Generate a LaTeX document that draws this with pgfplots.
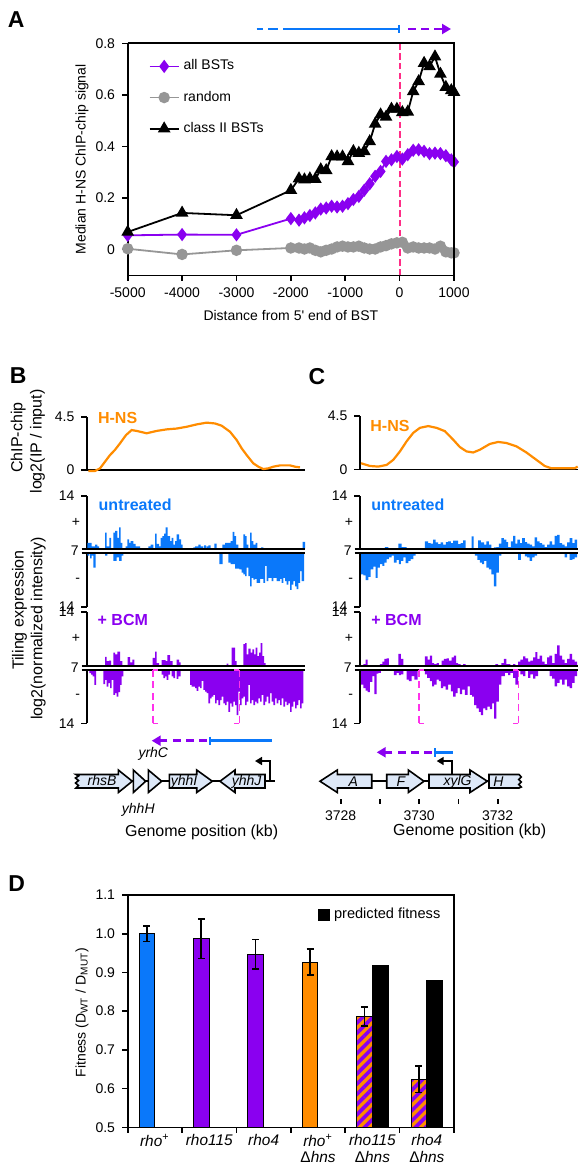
\documentclass[border=0pt]{standalone}
\usepackage{fontspec}
\setmainfont{Liberation Sans}
\usepackage{pgfplots}
\pgfplotsset{compat=1.18}
\usetikzlibrary{arrows.meta,patterns.meta}

\definecolor{cblue}{RGB}{10,120,250}
\definecolor{cpurple}{RGB}{138,0,240}
\definecolor{corange}{RGB}{255,140,0}
\definecolor{cgray}{RGB}{150,150,150}
\definecolor{cpink}{RGB}{255,45,135}
\definecolor{cmag}{RGB}{255,50,235}
\definecolor{gfill}{RGB}{221,232,248}

\pgfplotsset{
  every axis/.append style={
    scale only axis,
    font=\fontsize{7}{8.4}\selectfont,
    /pgf/number format/assume math mode=true,
    tick align=outside, major tick length=2.8pt,
    tick style={black, line width=0.8pt},
    axis line style={line width=0.8pt},
    label style={font=\fontsize{8}{9.6}\selectfont},
  },
  lineleg/.style={legend image code/.code={%
    \draw[mark repeat=2,mark phase=2,##1] plot coordinates {(0pt,0pt) (7.25pt,0pt) (14.5pt,0pt)};}},
  tile/.style={width=109pt, ymin=7, ymax=14,
    axis x line=none, axis y line*=left, tick align=outside,
    ytick={14}, yticklabels={14},
    extra y ticks={10.5}, extra y tick style={major tick length=0pt}},
  tileB/.style={tile, xmin=21, xmax=675},
  tileC/.style={tile, xmin=45, xmax=700},
  chip/.style={width=109pt, height=26.65pt, ymin=0, ymax=4.5,
    axis x line*=bottom, axis y line*=left, tick align=outside,
    xtick=\empty, ytick={0,4.5}, yticklabels={0,4.5}, clip=false},
  bars/.style={ybar interval, draw=none},
  obs/.style={ybar, bar width=7.75pt, bar shift=0pt, draw=black, line width=0.5pt, forget plot,
    error bars/y dir=both, error bars/y explicit,
    error bars/error bar style={line width=0.8pt, black},
    error bars/error mark options={rotate=90, mark size=1.75pt, line width=0.8pt, black}},
}

\newcommand{\gR}[3]{\filldraw[fill=gfill, draw=black, line width=0.8pt, line join=miter]
  (#1,774.5) -- (#2,774.5) -- (#2,770) -- (#3,781.25) -- (#2,792.5) -- (#2,788) -- (#1,788) -- cycle;}
\newcommand{\gL}[3]{\filldraw[fill=gfill, draw=black, line width=0.8pt, line join=miter]
  (#3,774.5) -- (#2,774.5) -- (#2,770) -- (#1,781.25) -- (#2,792.5) -- (#2,788) -- (#3,788) -- cycle;}

\begin{document}
\begin{tikzpicture}[font=\fontsize{7}{8.4}\selectfont]
\path[use as bounding box] (0pt,0pt) rectangle (289.5pt,-583pt);

% ---------------- A
\begin{axis}[at={(63.85pt,-137.65pt)}, anchor=south west, width=163.15pt, height=116pt,
  xmin=-5000, xmax=1000, ymin=-0.1, ymax=0.8, clip=false,
  xtick={-5000,-4000,-3000,-2000,-1000,0,1000}, ytick={0,0.2,0.4,0.6,0.8},
  tick pos=left, scaled ticks=false, /pgf/number format/1000 sep={},
  xlabel={Distance from 5\textquotesingle{} end of BST},
  ylabel={Median H-NS ChIP-chip signal},
  every axis x label/.style={at={(axis description cs:0.5,-0.175)}, anchor=center},
  every axis y label/.style={at={(axis description cs:-0.14,0.5)}, rotate=90, anchor=center},
  legend style={draw=none, fill=none, at={(0.045,0.965)}, anchor=north west, row sep=5pt},
  legend cell align=left, lineleg]
\addplot[cpurple, line width=0.9pt, mark=diamond*, mark size=2.6pt] coordinates {
 (-5000,0.055)(-4000,0.058)(-3000,0.057)(-2000,0.12)(-1850,0.114)(-1750,0.123)(-1650,0.132)
 (-1550,0.142)(-1450,0.157)(-1350,0.161)(-1250,0.168)(-1150,0.165)(-1050,0.168)(-950,0.178)
 (-850,0.194)(-750,0.206)(-650,0.23)(-550,0.255)(-450,0.284)(-350,0.303)(-250,0.342)
 (-150,0.348)(-50,0.361)(50,0.351)(150,0.368)(250,0.385)(350,0.387)(450,0.381)(550,0.372)
 (650,0.374)(750,0.372)(850,0.364)(950,0.348)(1000,0.34)};
\addlegendentry{all BSTs}
\addplot[cgray, line width=0.9pt, mark=*, mark size=2.4pt] coordinates {
 (-5000,0.003)(-4000,-0.019)(-3000,-0.003)(-2000,0.006)(-1850,0.006)(-1750,0.002)(-1650,0.006)
 (-1550,-0.003)(-1450,-0.009)(-1350,-0.003)(-1250,0.002)(-1150,0.01)(-1050,0.013)(-950,0.01)
 (-850,0.01)(-750,0.013)(-650,0.006)(-550,0.002)(-450,0.002)(-350,0.01)(-250,0.015)
 (-150,0.022)(-50,0.026)(50,0.028)(150,0.006)(250,0.01)(350,0.006)(450,0.006)(550,0.006)
 (650,0.002)(750,0.013)(850,-0.009)(950,-0.013)(1000,-0.013)};
\addlegendentry{random}
\addplot[black, line width=0.9pt, mark=triangle*, mark size=2.8pt] coordinates {
 (-5000,0.068)(-4000,0.142)(-3000,0.133)(-2000,0.23)(-1850,0.275)(-1750,0.271)(-1650,0.275)
 (-1550,0.273)(-1450,0.31)(-1350,0.307)(-1250,0.361)(-1150,0.36)(-1050,0.36)(-950,0.342)
 (-850,0.381)(-750,0.374)(-650,0.381)(-550,0.419)(-450,0.487)(-350,0.523)(-250,0.514)
 (-150,0.545)(-50,0.545)(50,0.532)(150,0.534)(250,0.613)(350,0.652)(450,0.723)(550,0.71)
 (650,0.748)(750,0.681)(850,0.63)(950,0.617)(1000,0.61)};
\addlegendentry{class II BSTs}
\draw[cpink, line width=0.9pt, dash pattern=on 3.3pt off 1.6pt] (axis cs:0,-0.1) -- (axis cs:0,0.8);
\end{axis}

% ---------------- B
\begin{axis}[chip, at={(43.5pt,-235pt)}, anchor=south west, xmin=21, xmax=675]
\addplot[corange, line width=1.1pt] coordinates {(25,-0.08)(45,-0.08)(60,0.14)(90,1.26)(105,1.7)
 (120,2.25)(138,2.95)(155,3.37)(170,3.3)(200,3.1)(230,3.3)(260,3.43)(290,3.5)(320,3.65)(350,3.85)
 (380,4.0)(405,3.93)(425,3.74)(450,3.23)(470,2.53)(485,1.83)(500,1.26)(520,0.56)(535,0.28)
 (550,0.08)(565,0.14)(580,0.28)(600,0.39)(630,0.39)(645,0.28)(660,0.22)};
\end{axis}

\begin{axis}[tileB, at={(43.5pt,-274.35pt)}, anchor=south west, height=26.35pt, extra y tick labels={+}]
\addplot[bars, fill=cblue] coordinates {(22,7.77)(35,7.32)(45,7.55)(52,7.32)(57,7)(75,9.14)(80,7.32)
 (88,8.45)(93,7)(100,9.14)(105,9.36)(112,8.45)(117,9.82)(122,7.77)(127,7)(137,7.32)(142,8.23)
 (147,7.77)(152,8.0)(160,7.64)(167,7.32)(180,7)(205,7.32)(212,7.55)(220,7)(225,9.0)(230,7.64)
 (237,7.32)(242,8.45)(247,8.68)(252,9.0)(257,9.82)(263,8.68)(270,8.0)(275,8.45)(280,7.55)
 (285,8.0)(290,8.91)(297,8.23)(303,7.55)(308,7)(340,7.18)(345,7.32)(355,7.55)(362,7.32)(370,7)
 (372,7.45)(378,7)(380,7.32)(385,7.45)(392,7)(403,7.68)(410,7)(427,7.55)(435,7.77)(445,7.77)
 (452,8.0)(458,9.23)(463,8.68)(468,7.55)(475,7)(490,8.91)(495,8.68)(500,7.55)(505,7)(510,9.14)
 (515,8.0)(520,7.55)(527,7.77)(532,7)(543,7.18)(550,7)(668,7.91)(675,7)};
\end{axis}
\begin{axis}[tileB, y dir=reverse, at={(43.5pt,-276.65pt)}, anchor=north west, height=26.7pt, extra y tick labels={-}]
\addplot[bars, fill=cblue] coordinates {(22,7.31)(28,7)(30,7.67)(35,7.31)(40,8.88)(47,7)(75,7.31)
 (82,7)(100,7.98)(110,7.54)(117,7.98)(125,7.31)(130,7)(418,8.43)(428,7)(445,8.21)(452,8.43)
 (465,9.01)(478,9.10)(485,9.54)(490,9.77)(495,9.99)(500,8.88)(505,9.99)(510,11.33)(515,10.21)
 (520,10.44)(525,10.35)(530,10.88)(540,10.35)(550,10.88)(555,8.65)(560,10.66)(565,10.21)
 (575,10.66)(580,10.21)(590,10.66)(600,10.35)(605,10.88)(610,10.21)(615,10.66)(620,11.11)
 (625,10.66)(630,11.78)(635,11.11)(640,10.66)(645,11.33)(650,11.69)(655,10.88)(660,9.32)
 (665,10.66)(672,7)};
\end{axis}
\begin{axis}[tileB, at={(43.5pt,-332.85pt)}, anchor=south west, height=27pt, extra y tick labels={+}]
\addplot[bars, fill=cpurple] coordinates {(21,7)(75,8.15)(80,7.58)(87,7.66)(93,7)(100,8.68)(105,8.46)
 (112,8.81)(120,7.58)(127,7)(143,8.11)(150,7.44)(157,7.8)(163,7)(218,8.02)(225,8.81)(230,7.35)
 (237,7)(245,7.71)(257,7.58)(262,8.37)(270,7.58)(278,7)(290,7.8)(297,7.44)(302,7)(440,7.27)
 (445,7)(455,9.35)(465,7.58)(470,7)(490,9.79)(495,9.92)(500,8.46)(505,9.21)(512,8.68)(517,9.12)
 (522,8.46)(527,9.35)(532,8.24)(537,8.68)(542,9.92)(547,8.24)(552,7.35)(557,7)(670,7)};
\end{axis}
\begin{axis}[tileB, y dir=reverse, at={(43.5pt,-335pt)}, anchor=north west, height=26.65pt, extra y tick labels={-}]
\addplot[bars, fill=cpurple] coordinates {(21,7)(28,7.4)(33,7.62)(38,7.84)(43,8.95)(48,7)(70,8.86)
 (75,8.28)(80,9.17)(85,8.73)(90,9.39)(95,8.28)(100,10.27)(105,10.05)(110,10.5)(115,9.92)(120,8.95)
 (125,7.84)(130,7)(245,7.62)(250,8.06)(255,7.84)(260,8.28)(265,7.62)(270,7)(275,7.84)(280,8.06)
 (285,7)(290,8.15)(295,7.84)(302,7)(330,8.95)(335,9.17)(345,9.39)(350,9.74)(355,9.17)(360,9.39)
 (365,8.42)(370,9.61)(375,9.83)(380,10.05)(385,11.38)(390,10.72)(395,10.5)(400,10.27)(405,11.38)
 (410,10.94)(415,11.6)(420,10.94)(425,10.5)(430,11.38)(435,11.6)(440,11.16)(445,12.49)(450,11.38)
 (455,11.82)(460,11.16)(465,11.6)(470,12.93)(475,9.83)(480,11.6)(485,10.72)(490,10.5)(495,11.6)
 (500,11.16)(505,8.95)(510,11.38)(515,10.94)(520,11.6)(525,11.16)(530,11.38)(535,10.72)(540,11.16)
 (545,10.27)(550,11.6)(555,11.16)(560,10.5)(565,11.38)(570,10.05)(575,11.16)(580,11.6)(585,10.72)
 (590,11.38)(595,10.94)(600,11.6)(605,10.72)(610,11.82)(615,11.16)(620,11.6)(625,11.38)(630,12.49)
 (635,11.82)(640,11.16)(645,12.04)(650,11.6)(655,10.94)(660,12.04)(665,11.38)(670,7)};
\end{axis}

% ---------------- C
\begin{axis}[chip, at={(180pt,-234.65pt)}, anchor=south west, xmin=45, xmax=700]
\addplot[corange, line width=1.1pt] coordinates {(48,0.51)(75,0.28)(100,0.23)(125,0.37)(145,0.8)
 (165,1.51)(185,2.36)(205,3.08)(225,3.5)(250,3.65)(275,3.5)(300,3.22)(325,2.5)(345,1.88)(365,1.51)
 (385,1.42)(405,1.65)(435,2.14)(460,2.31)(485,2.22)(515,1.94)(545,1.42)(575,0.8)(600,0.28)
 (620,0.09)(645,0.09)(675,0.09)(690,0.09)(699,0.23)};
\end{axis}

\begin{axis}[tileC, at={(180pt,-274.35pt)}, anchor=south west, height=26.35pt, extra y tick labels={+}]
\addplot[bars, fill=cblue] coordinates {(45,7)(120,7.22)(130,7)(160,7.66)(170,7.22)(185,7)(200,7.09)
 (210,7)(240,7.97)(250,7.75)(257,7.66)(265,8.19)(272,7.84)(280,7.62)(287,7.84)(295,7.53)(303,7.88)
 (310,7.97)(318,7.75)(325,8.06)(340,7.62)(347,7.75)(355,8.10)(362,7)(380,8.63)(386,7)(400,8.10)
 (408,7.84)(418,7.53)(425,7.97)(432,7.53)(440,7)(447,7.18)(455,7.22)(462,7.66)(470,8.41)(477,8.19)
 (485,7.88)(490,7.22)(498,7.97)(505,8.72)(512,7.66)(518,8.19)(525,7.75)(532,8.41)(540,7.88)
 (547,7.66)(555,7.53)(562,7.31)(570,8.50)(577,7.97)(585,7.75)(592,7.53)(600,7.22)(607,7.53)
 (615,7.97)(622,7.53)(630,8.72)(637,8.85)(645,7.75)(652,7.53)(660,7.31)(667,7.84)(675,8.41)
 (683,7.75)(690,8.19)(697,7)};
\end{axis}
\begin{axis}[tileC, y dir=reverse, at={(180pt,-276.65pt)}, anchor=north west, height=26.7pt, extra y tick labels={-}]
\addplot[bars, fill=cblue] coordinates {(45,7)(48,9.77)(55,9.9)(62,10.53)(70,10.08)(77,9.1)(85,8.74)
 (92,10.21)(98,8.88)(105,8.43)(112,8.65)(118,8.21)(125,7.76)(132,7.54)(140,7.31)(147,8.21)(155,7.85)
 (162,8.43)(168,7.98)(175,7.54)(182,8.29)(190,7.98)(197,7.76)(205,7.31)(212,7)(315,7.09)(322,7)
 (390,7.31)(398,7.85)(405,8.21)(412,8.43)(418,7.98)(425,8.88)(432,9.1)(440,9.77)(447,11.33)
 (455,9.54)(462,7.31)(470,7)(520,7.85)(528,7)(540,7.4)(547,7.54)(555,7.98)(562,7.54)(570,7.31)
 (577,7)(660,7.54)(667,7)(675,7.85)(683,7.76)(690,7.54)(697,7)};
\end{axis}
\begin{axis}[tileC, at={(180pt,-332.85pt)}, anchor=south west, height=27pt, extra y tick labels={+}]
\addplot[bars, fill=cpurple] coordinates {(45,7)(55,7.22)(62,7.79)(68,7.09)(75,7)(105,7.22)(112,7.52)
 (118,7.87)(125,7.96)(132,7)(160,8.53)(168,7.87)(175,7)(240,8.22)(248,7.79)(255,8.31)(262,7.35)
 (268,7.22)(275,7.35)(282,7)(290,7.66)(297,7.87)(305,7.96)(312,7.66)(320,8.09)(327,8.31)(334,7.35)
 (340,7.22)(347,7)(355,7.22)(362,7)(452,7.22)(460,7)(470,7.35)(477,7.87)(485,7.22)(497,7)(505,7.22)
 (512,7)(520,7.52)(527,7.79)(535,8.22)(542,7.96)(550,7.52)(557,7.66)(565,8.09)(572,8.75)(578,7.87)
 (585,8.31)(592,7.52)(600,7.22)(607,8.09)(614,8.31)(622,7.35)(630,8.53)(637,9.62)(645,8.31)
 (652,7.79)(660,7.35)(667,7.87)(675,8.53)(682,7.79)(690,7.52)(697,7)};
\end{axis}
\begin{axis}[tileC, y dir=reverse, at={(180pt,-335pt)}, anchor=north west, height=26.65pt, extra y tick labels={-}]
\addplot[bars, fill=cpurple] coordinates {(45,7)(48,8.92)(55,9.37)(62,9.72)(68,9.9)(75,8.56)(82,7.8)
 (88,10.17)(95,7.49)(100,7.36)(108,7)(147,7.67)(155,7.36)(162,7.67)(168,7.58)(175,7)(185,8.25)
 (192,8.47)(200,7.8)(208,8.25)(218,7)(240,7.58)(247,8.03)(255,8.47)(262,9.14)(268,8.92)(275,8.25)
 (282,8.47)(288,9.37)(295,9.14)(302,9.59)(310,8.92)(318,9.81)(325,10.48)(332,10.04)(338,9.37)
 (345,10.17)(352,9.59)(360,10.26)(368,9.14)(375,10.26)(382,10.48)(388,11.6)(395,12.04)(402,12.49)
 (408,12.94)(415,12.04)(422,12.27)(428,11.82)(435,12.13)(442,11.38)(448,13.38)(455,11.15)(462,8.92)
 (470,7.8)(480,7.36)(490,7.67)(497,7.36)(505,8.03)(512,8.92)(520,7)(527,7.58)(535,7.8)(542,7)
 (550,8.03)(557,7.58)(565,8.12)(572,7.8)(580,7)(615,7.8)(622,8.12)(630,9.14)(637,8.7)(645,8.25)
 (652,8.92)(660,8.25)(667,9.14)(675,9.37)(682,8.7)(690,7.8)(697,7)};
\end{axis}

\begin{axis}[at={(170.35pt,-399.5pt)}, anchor=south west, width=78.5pt, height=1pt,
  xmin=3728, xmax=3732, ymin=0, ymax=1, hide y axis, axis x line*=bottom,
  x axis line style={draw=none}, xtick={3728,3729,3730,3731,3732},
  xticklabels={3728,,3730,,3732}, tick align=outside, major tick length=2.25pt]
\end{axis}

% ---------------- D
\begin{axis}[at={(63.85pt,-563.65pt)}, anchor=south west, width=163.15pt, height=116.15pt,
  xmin=0, xmax=6, ymin=0.5, ymax=1.1,
  xtick={0,1,2,3,4,5,6}, xticklabels={,,,,,,},
  extra x ticks={0.5,1.5,2.5,3.5,4.5,5.5},
  extra x tick labels={{\textit{rho}\textsuperscript{+}},{\textit{rho115}},{\textit{rho4}},
    {\textit{rho}\textsuperscript{+}\\Δ\textit{hns}},{\textit{rho115}\\Δ\textit{hns}},{\textit{rho4}\\Δ\textit{hns}}},
  extra x tick style={major tick length=0pt,
    xticklabel style={align=center, anchor=north, font=\fontsize{7.7}{8.3}\selectfont}},
  ytick={0.5,0.6,0.7,0.8,0.9,1.0,1.1}, yticklabels={0.5,0.6,0.7,0.8,0.9,1.0,1.1},
  tick pos=left,
  ylabel={Fitness (D\textsubscript{WT} / D\textsubscript{MUT})},
  every axis y label/.style={at={(axis description cs:-0.14,0.494)}, rotate=90, anchor=center},
  legend style={draw=none, fill=none, at={(0.99,0.914)}, anchor=east, font=\fontsize{7.3}{8.5}\selectfont},
  legend image code/.code={\fill[black] (0pt,-2.75pt) rectangle (5.5pt,2.75pt);}]
\addplot[obs, fill=cblue] coordinates {(0.353,1.0) +- (0,0.02)};
\addplot[obs, fill=cpurple] coordinates {(1.353,0.987) +- (0,0.051) (2.353,0.947) +- (0,0.038)};
\addplot[obs, fill=corange] coordinates {(3.353,0.927) +- (0,0.034)};
\addplot[obs, fill=corange,
  postaction={pattern={Lines[angle=45,distance=3.6pt,line width=1.8pt]}, pattern color=cpurple}]
  coordinates {(4.353,0.786) +- (0,0.025) (5.353,0.624) +- (0,0.034)};
\addplot[ybar, bar width=8pt, bar shift=0pt, fill=black, draw=black, line width=0.5pt]
  coordinates {(4.64,0.917) (5.64,0.880)};
\addlegendentry{predicted fitness}
\end{axis}

\begin{scope}[x=0.5pt, y=-0.5pt]
% box lines of A and D (top and right sides)
\draw[line width=0.8pt, black] (127.7,43.3) -- (454,43.3) -- (454,275.3);
\draw[line width=0.8pt, black] (127.7,895) -- (454,895) -- (454,1127.3);

\draw[cblue, line width=1.4pt, dash pattern=on 3.3pt off 2.5pt on 5pt off 2.5pt] (256.7,29) -- (283.3,29);
\draw[cblue, line width=1.4pt] (283.3,29) -- (399,29);
\draw[cblue, line width=1.2pt] (399,25) -- (399,33);
\draw[cpurple, line width=1.4pt, dash pattern=on 4pt off 2.6pt, -{Triangle[length=4.5pt,width=5pt]}] (408,29) -- (451,29);

% double baselines and 7 labels
\foreach \yy/\yl in {548.7/553.3, 665.7/670} {
  \draw[line width=1.2pt] (81.7,\yy) -- (305,\yy);
  \draw[line width=1pt] (81.7,\yl) -- (305,\yl);
  \draw[line width=1.2pt] (354.7,\yy) -- (578.3,\yy);
  \draw[line width=1pt] (354.7,\yl) -- (578.3,\yl);
}
\node[anchor=east, inner sep=0pt] at (79,551) {7};
\node[anchor=east, inner sep=0pt] at (79,668) {7};
\node[anchor=east, inner sep=0pt] at (352,551) {7};
\node[anchor=east, inner sep=0pt] at (352,668) {7};

% dashed brackets
\foreach \xa/\xb in {152.7/239.3, 419/518.3} {
  \draw[cmag, line width=0.8pt, dash pattern=on 3.5pt off 2.2pt] (\xa,670) -- (\xa,723.3);
  \draw[cmag, line width=0.8pt, dash pattern=on 3.5pt off 2.2pt] (\xb,670) -- (\xb,723.3);
  \draw[cmag, line width=0.8pt] (\xa+5,670) -- (\xa,670) (\xa,723.3) -- (\xa+5,723.3);
  \draw[cmag, line width=0.8pt] (\xb-5,670) -- (\xb,670) (\xb,723.3) -- (\xb-5,723.3);
}

% series labels
\begin{scope}[font=\bfseries\fontsize{8}{9}\selectfont]
\node[anchor=base west, inner sep=0pt, text=corange] at (97.7,423.3) {H-NS};
\node[anchor=base west, inner sep=0pt, text=corange] at (370,431) {H-NS};
\node[anchor=base west, inner sep=0pt, text=cblue] at (98.3,510.7) {untreated};
\node[anchor=base west, inner sep=0pt, text=cblue] at (371,510.7) {untreated};
\node[anchor=base west, inner sep=0pt, text=cpurple] at (97.3,625.7) {+ BCM};
\node[anchor=base west, inner sep=0pt, text=cpurple] at (371,625.7) {+ BCM};
\end{scope}

% y labels of B
\begin{scope}[font=\fontsize{8}{9.6}\selectfont]
\node[rotate=90] at (18.3,437.5) {ChIP-chip};
\node[rotate=90] at (37.5,441.5) {log2(IP / input)};
\node[rotate=90] at (19.5,610) {Tiling expression};
\node[rotate=90] at (38.3,628.5) {log2(normalized intensity)};
\node at (201.7,832.5) {Genome position (kb)};
\node at (469.7,831) {Genome position (kb)};
\end{scope}

% transcript arrows
\draw[cpurple, line width=1.5pt, dash pattern=on 4pt off 2.6pt, -{Triangle[length=4.5pt,width=5pt]}] (207,740.7) -- (151.7,740.7);
\draw[cblue, line width=1.5pt] (210,740.7) -- (271.7,740.7);
\draw[cblue, line width=1.3pt] (210,736.5) -- (210,745);
\draw[cpurple, line width=1.5pt, dash pattern=on 4pt off 2.6pt, -{Triangle[length=4.5pt,width=5pt]}] (432,752.3) -- (376.7,752.3);
\draw[cblue, line width=1.5pt] (435,752.3) -- (452.7,752.3);
\draw[cblue, line width=1.3pt] (435,748) -- (435,756.5);

% gene maps B
\draw[line width=0.8pt] (130,781.25) -- (275,781.25);
\filldraw[fill=gfill, draw=black, line width=0.8pt, line join=miter]
  (118.3,774.5) -- (118.3,770) -- (132.3,781.25) -- (118.3,792.5) -- (118.3,788) -- (76,788)
  -- (78.5,785.5) -- (75.5,783) -- (78.5,780.5) -- (75.5,778) -- (78.5,776) -- (76,774.5) -- cycle;
\filldraw[fill=gfill, draw=black, line width=0.8pt] (133.3,770) -- (145.7,781.25) -- (133.3,792.5) -- cycle;
\filldraw[fill=gfill, draw=black, line width=0.8pt] (148.3,770) -- (161.7,781.25) -- (148.3,792.5) -- cycle;
\gR{169.3}{196.7}{212.3}
\gL{220}{235}{265}
\draw[line width=0.8pt, -{Triangle[length=3.5pt,width=4pt]}] (270,781.25) -- (270,761) -- (255,761);
\begin{scope}[font=\itshape\fontsize{7}{8}\selectfont]
\node at (102,780.8) {rhsB};
\node at (153.3,754) {yrhC};
\node at (138.3,810) {yhhH};
\node at (184,782) {yhhI};
\node at (246.7,782) {yhhJ};
\end{scope}

% gene maps C
\draw[line width=0.8pt] (330,781.25) -- (490,781.25);
\gL{320}{337.3}{371.7}
\gR{386.7}{408.3}{424}
\gR{429}{470}{487.3}
\filldraw[fill=gfill, draw=black, line width=0.8pt, line join=miter]
  (489,774.5) -- (519,774.5) -- (521.3,777) -- (518.8,779.5) -- (521.3,782) -- (518.8,784.5)
  -- (521.3,787) -- (519,788) -- (489,788) -- cycle;
\draw[line width=0.8pt, -{Triangle[length=3.5pt,width=4pt]}] (451.7,774.5) -- (451.7,761) -- (436.7,761);
\begin{scope}[font=\itshape\fontsize{7}{8}\selectfont]
\node at (353.3,781.25) {A};
\node at (400.8,781.25) {F};
\node at (457.5,782) {xylG};
\node at (498.3,781.25) {H};
\end{scope}

% panel letters
\begin{scope}[font=\bfseries\fontsize{11.5}{12}\selectfont]
\node at (16.2,20) {A};
\node at (18.3,375.3) {B};
\node at (317,376.7) {C};
\node at (16.7,883.3) {D};
\end{scope}
\end{scope}
\end{tikzpicture}
\end{document}
